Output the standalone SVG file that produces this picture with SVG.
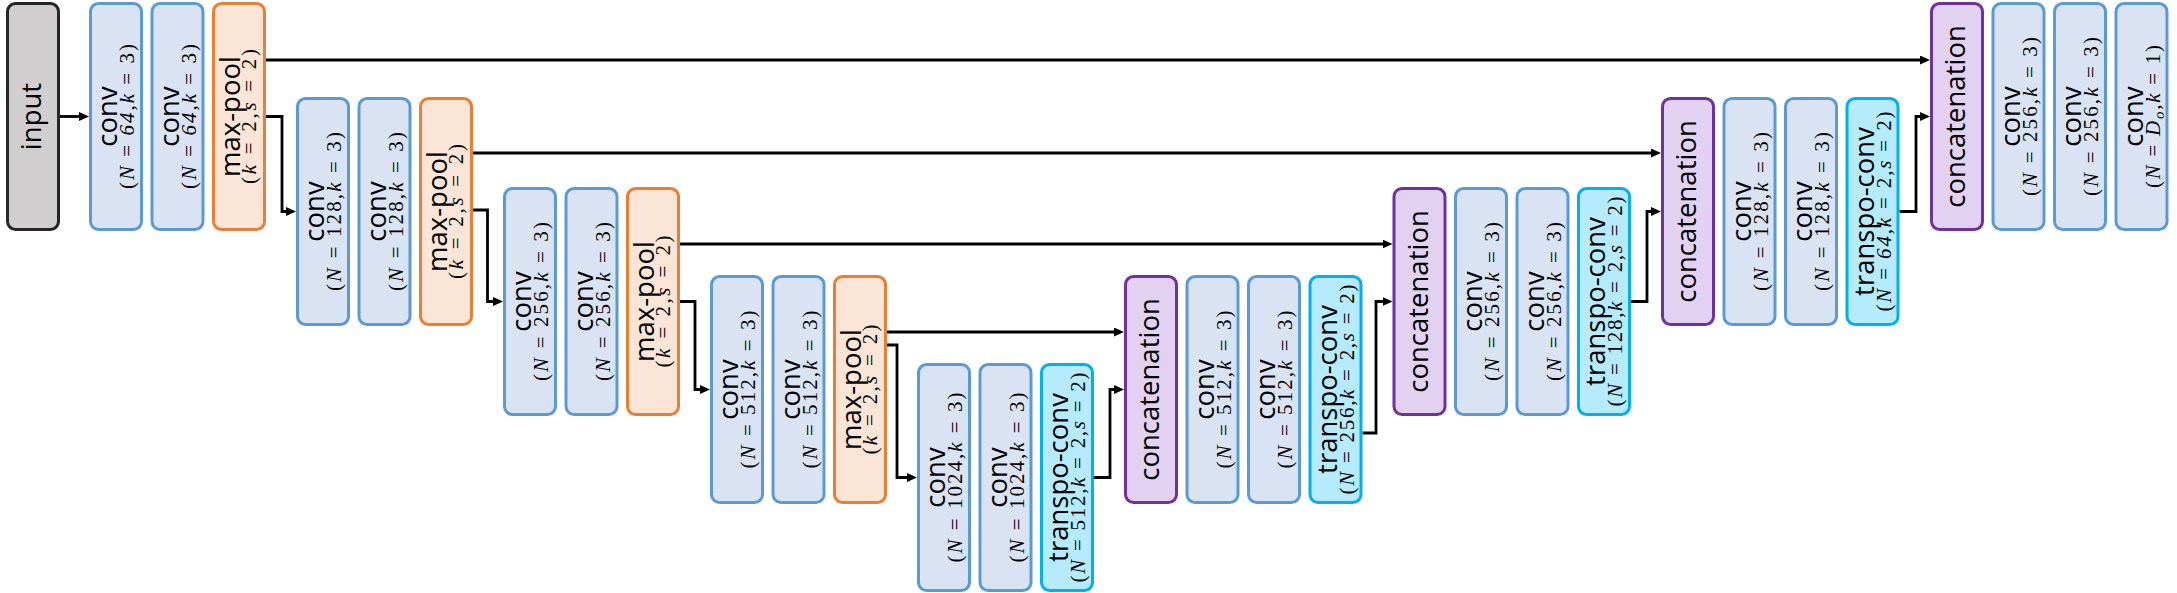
<svg xmlns="http://www.w3.org/2000/svg" width="2177" height="593" viewBox="0 0 2177 593">
<style>
rect{stroke-width:3}
.conv rect{fill:#dae3f3;stroke:#5b9bd5}
.pool rect{fill:#fbe5d6;stroke:#ed7d31}
.inp rect{fill:#d0cece;stroke:#262626}
.cat rect{fill:#e3d1f1;stroke:#7030a0}
.tr rect{fill:#b5ebfc;stroke:#00b0f0}
.l1{font-family:"Open Sans","Noto Sans",sans-serif;font-size:27.5px;fill:#000;text-anchor:middle}
.m{font-family:"Liberation Serif","DejaVu Serif",serif;font-size:21px;fill:#000;text-anchor:middle}
.i{font-style:italic}
.cn path{fill:none;stroke:#000;stroke-width:2.8;stroke-linejoin:miter}
</style>
<defs>
<marker id="ah" markerUnits="userSpaceOnUse" markerWidth="11" markerHeight="10" refX="1" refY="4.5" orient="auto">
<path d="M0,0 L10,4.5 L0,9 Z" fill="#000"/>
</marker>
</defs>

<g class="cn" id="connectors">
<path d="M60,116.5 H80" marker-end="url(#ah)"/>
<path d="M266,60 H1921" marker-end="url(#ah)"/>
<path d="M266,116.5 H282 V211.5 H287" marker-end="url(#ah)"/>
<path d="M473,153 H1652" marker-end="url(#ah)"/>
<path d="M473,210 H487.5 V301.5 H494" marker-end="url(#ah)"/>
<path d="M680,244 H1383.5" marker-end="url(#ah)"/>
<path d="M680,301.5 H695 V389.5 H701" marker-end="url(#ah)"/>
<path d="M887,332 H1115" marker-end="url(#ah)"/>
<path d="M887,345 H897 V477.5 H908" marker-end="url(#ah)"/>
<path d="M1094,477.5 H1110 V389.5 H1115" marker-end="url(#ah)"/>
<path d="M1362.5,433 H1376 V301.5 H1383.5" marker-end="url(#ah)"/>
<path d="M1631,301.5 H1647 V211.5 H1652" marker-end="url(#ah)"/>
<path d="M1899.5,211.5 H1916 V116.5 H1921" marker-end="url(#ah)"/>
</g>

<!-- Level 1 encoder -->
<g id="input" class="inp"><rect x="7.5" y="3.5" width="51" height="226" rx="8"/>
<text class="l1" transform="translate(33,116.5) rotate(-90)" y="8">input</text></g>

<g id="conv64a" class="conv"><rect x="90.5" y="3.5" width="51" height="226" rx="8"/>
<g transform="translate(116,116.5) rotate(-90)"><text class="l1" y="1">conv</text>
<text class="m" y="18" textLength="145" lengthAdjust="spacing">(<tspan class="i">N</tspan> = <tspan class="i">64</tspan>,<tspan class="i">k</tspan> =  3)</text></g></g>

<g id="conv64b" class="conv"><rect x="152" y="3.5" width="51" height="226" rx="8"/>
<g transform="translate(177.5,116.5) rotate(-90)"><text class="l1" y="1">conv</text>
<text class="m" y="18" textLength="145" lengthAdjust="spacing">(<tspan class="i">N</tspan> = <tspan class="i">64</tspan>,<tspan class="i">k</tspan> =  3)</text></g></g>

<g id="maxpool1" class="pool"><rect x="213.5" y="3.5" width="51" height="226" rx="8"/>
<g transform="translate(239,116.5) rotate(-90)"><text class="l1" y="1">max-pool</text>
<text class="m" y="17" textLength="135" lengthAdjust="spacing">(<tspan class="i">k</tspan> = 2,<tspan class="i">s</tspan> = 2)</text></g></g>

<!-- Level 2 encoder -->
<g id="conv128a" class="conv"><rect x="297.5" y="98.5" width="51" height="226" rx="8"/>
<g transform="translate(323,211.5) rotate(-90)"><text class="l1" y="1">conv</text>
<text class="m" y="18" textLength="159" lengthAdjust="spacing">(<tspan class="i">N</tspan> = 128,<tspan class="i">k</tspan> =  3)</text></g></g>

<g id="conv128b" class="conv"><rect x="359" y="98.5" width="51" height="226" rx="8"/>
<g transform="translate(384.5,211.5) rotate(-90)"><text class="l1" y="1">conv</text>
<text class="m" y="18" textLength="159" lengthAdjust="spacing">(<tspan class="i">N</tspan> = 128,<tspan class="i">k</tspan> =  3)</text></g></g>

<g id="maxpool2" class="pool"><rect x="420.5" y="98.5" width="51" height="226" rx="8"/>
<g transform="translate(446,211.5) rotate(-90)"><text class="l1" y="1">max-pool</text>
<text class="m" y="17" textLength="135" lengthAdjust="spacing">(<tspan class="i">k</tspan> = 2,<tspan class="i">s</tspan> = 2)</text></g></g>

<!-- Level 3 encoder -->
<g id="conv256a" class="conv"><rect x="504.5" y="188.5" width="51" height="226" rx="8"/>
<g transform="translate(530,301.5) rotate(-90)"><text class="l1" y="1">conv</text>
<text class="m" y="18" textLength="159" lengthAdjust="spacing">(<tspan class="i">N</tspan> = 256,<tspan class="i">k</tspan> =  3)</text></g></g>

<g id="conv256b" class="conv"><rect x="566" y="188.5" width="51" height="226" rx="8"/>
<g transform="translate(591.5,301.5) rotate(-90)"><text class="l1" y="1">conv</text>
<text class="m" y="18" textLength="159" lengthAdjust="spacing">(<tspan class="i">N</tspan> = 256,<tspan class="i">k</tspan> =  3)</text></g></g>

<g id="maxpool3" class="pool"><rect x="627.5" y="188.5" width="51" height="226" rx="8"/>
<g transform="translate(653,301.5) rotate(-90)"><text class="l1" y="1">max-pool</text>
<text class="m" y="17" textLength="132" lengthAdjust="spacing">(<tspan class="i">k</tspan> = 2,<tspan class="i">s</tspan> = 2)</text></g></g>

<!-- Level 4 encoder -->
<g id="conv512a" class="conv"><rect x="711.5" y="276.5" width="51" height="226" rx="8"/>
<g transform="translate(737,389.5) rotate(-90)"><text class="l1" y="1">conv</text>
<text class="m" y="18" textLength="158" lengthAdjust="spacing">(<tspan class="i">N</tspan> = 512,<tspan class="i">k</tspan> =  3)</text></g></g>

<g id="conv512b" class="conv"><rect x="773" y="276.5" width="51" height="226" rx="8"/>
<g transform="translate(798.5,389.5) rotate(-90)"><text class="l1" y="1">conv</text>
<text class="m" y="18" textLength="158" lengthAdjust="spacing">(<tspan class="i">N</tspan> = 512,<tspan class="i">k</tspan> =  3)</text></g></g>

<g id="maxpool4" class="pool"><rect x="834.5" y="276.5" width="51" height="226" rx="8"/>
<g transform="translate(860,389.5) rotate(-90)"><text class="l1" y="1">max-pool</text>
<text class="m" y="17" textLength="130" lengthAdjust="spacing">(<tspan class="i">k</tspan> = 2,<tspan class="i">s</tspan> = 2)</text></g></g>

<!-- Level 5 bottleneck -->
<g id="conv1024a" class="conv"><rect x="918.5" y="364.5" width="51" height="226" rx="8"/>
<g transform="translate(944,477.5) rotate(-90)"><text class="l1" y="1">conv</text>
<text class="m" y="18" textLength="170" lengthAdjust="spacing">(<tspan class="i">N</tspan> = 1024,<tspan class="i">k</tspan> =  3)</text></g></g>

<g id="conv1024b" class="conv"><rect x="980" y="364.5" width="51" height="226" rx="8"/>
<g transform="translate(1005.5,477.5) rotate(-90)"><text class="l1" y="1">conv</text>
<text class="m" y="18" textLength="170" lengthAdjust="spacing">(<tspan class="i">N</tspan> = 1024,<tspan class="i">k</tspan> =  3)</text></g></g>

<g id="transpo512" class="tr"><rect x="1041.5" y="364.5" width="51" height="226" rx="8"/>
<g transform="translate(1067,477.5) rotate(-90)"><text class="l1" y="1">transpo-conv</text>
<text class="m" y="18" textLength="210" lengthAdjust="spacing">(<tspan class="i">N</tspan> = 512,<tspan class="i">k</tspan> = 2,<tspan class="i">s</tspan> = 2)</text></g></g>

<!-- Level 4 decoder -->
<g id="concat4" class="cat"><rect x="1125.5" y="276.5" width="51" height="226" rx="8"/>
<text class="l1" transform="translate(1151,389.5) rotate(-90)" y="8">concatenation</text></g>

<g id="conv512c" class="conv"><rect x="1187" y="276.5" width="51" height="226" rx="8"/>
<g transform="translate(1212.5,389.5) rotate(-90)"><text class="l1" y="1">conv</text>
<text class="m" y="18" textLength="158" lengthAdjust="spacing">(<tspan class="i">N</tspan> = 512,<tspan class="i">k</tspan> =  3)</text></g></g>

<g id="conv512d" class="conv"><rect x="1248.5" y="276.5" width="51" height="226" rx="8"/>
<g transform="translate(1274,389.5) rotate(-90)"><text class="l1" y="1">conv</text>
<text class="m" y="18" textLength="158" lengthAdjust="spacing">(<tspan class="i">N</tspan> = 512,<tspan class="i">k</tspan> =  3)</text></g></g>

<g id="transpo256" class="tr"><rect x="1310" y="276.5" width="51" height="226" rx="8"/>
<g transform="translate(1335.5,389.5) rotate(-90)"><text class="l1" y="1">transpo-conv</text>
<text class="m" y="18" textLength="210" lengthAdjust="spacing">(<tspan class="i">N</tspan> = 256,<tspan class="i">k</tspan> = 2,<tspan class="i">s</tspan> = 2)</text></g></g>

<!-- Level 3 decoder -->
<g id="concat3" class="cat"><rect x="1394" y="188.5" width="51" height="226" rx="8"/>
<text class="l1" transform="translate(1419.5,301.5) rotate(-90)" y="8">concatenation</text></g>

<g id="conv256c" class="conv"><rect x="1455.5" y="188.5" width="51" height="226" rx="8"/>
<g transform="translate(1481,301.5) rotate(-90)"><text class="l1" y="1">conv</text>
<text class="m" y="18" textLength="159" lengthAdjust="spacing">(<tspan class="i">N</tspan> = 256,<tspan class="i">k</tspan> =  3)</text></g></g>

<g id="conv256d" class="conv"><rect x="1517" y="188.5" width="51" height="226" rx="8"/>
<g transform="translate(1542.5,301.5) rotate(-90)"><text class="l1" y="1">conv</text>
<text class="m" y="18" textLength="159" lengthAdjust="spacing">(<tspan class="i">N</tspan> = 256,<tspan class="i">k</tspan> =  3)</text></g></g>

<g id="transpo128" class="tr"><rect x="1578.5" y="188.5" width="51" height="226" rx="8"/>
<g transform="translate(1604,301.5) rotate(-90)"><text class="l1" y="1">transpo-conv</text>
<text class="m" y="18" textLength="210" lengthAdjust="spacing">(<tspan class="i">N</tspan> = 128,<tspan class="i">k</tspan> = 2,<tspan class="i">s</tspan> = 2)</text></g></g>

<!-- Level 2 decoder -->
<g id="concat2" class="cat"><rect x="1662.5" y="98.5" width="51" height="226" rx="8"/>
<text class="l1" transform="translate(1688,211.5) rotate(-90)" y="8">concatenation</text></g>

<g id="conv128c" class="conv"><rect x="1724" y="98.5" width="51" height="226" rx="8"/>
<g transform="translate(1749.5,211.5) rotate(-90)"><text class="l1" y="1">conv</text>
<text class="m" y="18" textLength="159" lengthAdjust="spacing">(<tspan class="i">N</tspan> = 128,<tspan class="i">k</tspan> =  3)</text></g></g>

<g id="conv128d" class="conv"><rect x="1785.5" y="98.5" width="51" height="226" rx="8"/>
<g transform="translate(1811,211.5) rotate(-90)"><text class="l1" y="1">conv</text>
<text class="m" y="18" textLength="159" lengthAdjust="spacing">(<tspan class="i">N</tspan> = 128,<tspan class="i">k</tspan> =  3)</text></g></g>

<g id="transpo64" class="tr"><rect x="1847" y="98.5" width="51" height="226" rx="8"/>
<g transform="translate(1872.5,211.5) rotate(-90)"><text class="l1" y="1">transpo-conv</text>
<text class="m" y="18" textLength="200" lengthAdjust="spacing">(<tspan class="i">N</tspan> = <tspan class="i">64</tspan>,<tspan class="i">k</tspan> = 2,<tspan class="i">s</tspan> = 2)</text></g></g>

<!-- Level 1 decoder -->
<g id="concat1" class="cat"><rect x="1931.5" y="3.5" width="51" height="226" rx="8"/>
<text class="l1" transform="translate(1957,116.5) rotate(-90)" y="8">concatenation</text></g>

<g id="conv256e" class="conv"><rect x="1993" y="3.5" width="51" height="226" rx="8"/>
<g transform="translate(2018.5,116.5) rotate(-90)"><text class="l1" y="1">conv</text>
<text class="m" y="18" textLength="159" lengthAdjust="spacing">(<tspan class="i">N</tspan> = 256,<tspan class="i">k</tspan> =  3)</text></g></g>

<g id="conv256f" class="conv"><rect x="2054.5" y="3.5" width="51" height="226" rx="8"/>
<g transform="translate(2080,116.5) rotate(-90)"><text class="l1" y="1">conv</text>
<text class="m" y="18" textLength="159" lengthAdjust="spacing">(<tspan class="i">N</tspan> = 256,<tspan class="i">k</tspan> =  3)</text></g></g>

<g id="convOut" class="conv"><rect x="2116" y="3.5" width="51" height="226" rx="8"/>
<g transform="translate(2141.5,116.5) rotate(-90)"><text class="l1" y="1">conv</text>
<text class="m" y="18" textLength="143" lengthAdjust="spacing">(<tspan class="i">N</tspan> = <tspan class="i">D</tspan><tspan class="i" font-size="15" baseline-shift="-4">o</tspan>,<tspan class="i">k</tspan> = 1)</text></g></g>
</svg>
